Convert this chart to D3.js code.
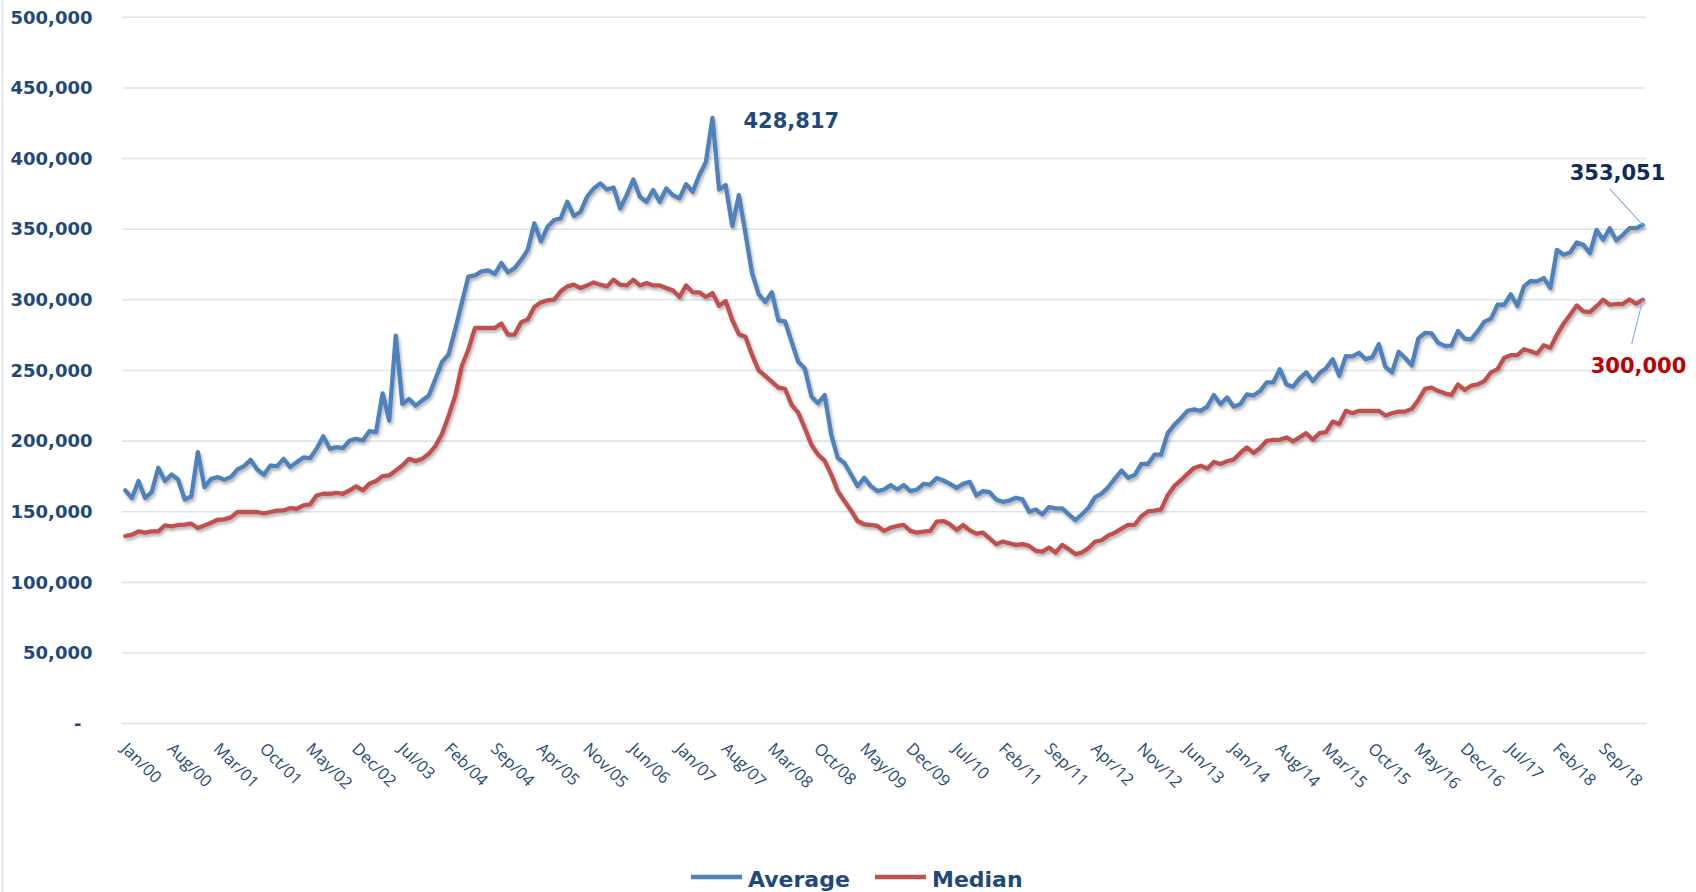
<!DOCTYPE html>
<html>
<head>
<meta charset="utf-8">
<script src="https://cdn.jsdelivr.net/npm/d3@7/dist/d3.min.js"></script>
<style>
  html, body { margin: 0; padding: 0; background: #fff; }
  svg { display: block; }
</style>
</head>
<body>
<svg id="chart"></svg>
<script>
const width = 1696;
const height = 892;

// categories
const monthNames = ['Jan', 'Feb', 'Mar', 'Apr', 'May', 'Jun', 'Jul', 'Aug', 'Sep', 'Oct', 'Nov', 'Dec'];
const years = ['00', '01', '02', '03', '04', '05', '06', '07', '08', '09',
               '10', '11', '12', '13', '14', '15', '16', '17', '18', '19'];
const monthCount = 231; // Jan/00 .. Mar/19

// series values, in thousands
const averageK = [
  165.1, 159.7, 171.7, 159.7, 163.9, 181.1, 171.7, 176.4, 172.8, 158.7, 160.8, 192.2,
  167.4, 173.3, 174.5, 172.6, 174.5, 179.9, 182.3, 186.7, 179.9, 176.1, 182.7, 182.3,
  187.4, 181.6, 185.1, 188.4, 187.9, 194.5, 203.5, 194.5, 195.7, 195.0, 200.4, 201.6,
  200.4, 207.0, 206.3, 233.8, 214.5, 274.6, 226.3, 229.8, 225.1, 228.7, 232.2, 244.0,
  256.0, 261.3, 278.9, 297.7, 316.5, 317.3, 320.1, 320.8, 318.4, 326.0, 319.4, 322.4,
  328.3, 335.4, 354.2, 341.2, 351.8, 356.5, 357.7, 369.4, 359.3, 362.4, 373.0, 378.8,
  382.4, 378.1, 379.5, 364.7, 374.1, 385.2, 373.0, 369.4, 377.7, 369.4, 378.8, 374.1,
  371.8, 381.9, 376.5, 388.2, 397.6, 428.817, 378.1, 381.2, 352.3, 374.1, 347.0, 318.9,
  304.0, 298.4, 305.4, 285.4, 284.7, 270.2, 256.1, 251.4, 231.5, 226.8, 232.6, 204.5,
  188.0, 184.5, 176.3, 168.1, 174.0, 168.1, 164.6, 165.7, 168.8, 165.7, 168.8, 164.6,
  165.7, 169.7, 169.2, 173.9, 172.1, 169.7, 166.9, 169.7, 171.1, 161.5, 164.6, 163.8,
  158.7, 157.0, 157.9, 159.9, 158.7, 150.0, 151.6, 148.1, 153.3, 152.3, 152.3, 148.1,
  144.1, 148.1, 152.8, 160.3, 162.8, 167.5, 173.4, 179.1, 174.0, 176.0, 183.8, 183.8,
  190.4, 190.4, 205.6, 211.5, 216.2, 221.4, 222.5, 221.4, 224.4, 232.6, 226.1, 230.8,
  224.4, 226.1, 233.1, 232.2, 235.4, 241.5, 241.5, 250.9, 240.1, 238.5, 244.4, 248.6,
  242.5, 248.0, 251.5, 258.0, 246.3, 260.1, 260.0, 262.5, 258.0, 259.2, 268.6, 252.5,
  248.6, 263.2, 258.8, 253.6, 272.7, 276.6, 276.2, 269.5, 267.4, 267.6, 278.0, 272.6,
  272.0, 277.8, 284.5, 286.7, 296.5, 296.5, 303.9, 295.6, 309.5, 313.3, 313.0, 315.4,
  308.3, 335.4, 331.9, 333.5, 340.6, 338.9, 333.0, 349.5, 342.5, 350.7, 342.0, 346.0,
  350.7, 350.7, 353.051
];

const medianK = [
  132.8, 133.7, 136.1, 135.2, 136.1, 136.1, 140.3, 139.6, 140.6, 140.8, 141.5, 138.5,
  140.3, 142.2, 144.3, 144.6, 146.0, 149.8, 149.8, 149.8, 149.8, 148.8, 149.8, 150.7,
  150.9, 152.6, 152.1, 154.5, 155.2, 161.5, 162.7, 162.7, 163.4, 162.7, 165.1, 167.9,
  165.1, 169.8, 171.7, 175.2, 175.7, 179.2, 182.7, 187.4, 185.8, 187.4, 191.0, 196.5,
  205.0, 217.8, 231.9, 253.1, 264.8, 280.1, 280.1, 280.1, 280.1, 283.2, 275.4, 275.4,
  284.1, 286.0, 294.9, 298.2, 299.6, 300.1, 306.0, 309.5, 310.7, 308.3, 310.2, 312.3,
  310.7, 309.5, 314.2, 310.7, 310.2, 314.2, 310.2, 311.8, 310.2, 310.2, 308.3, 306.7,
  302.0, 310.2, 305.3, 305.3, 302.0, 304.8, 295.8, 299.2, 285.7, 275.7, 273.8, 261.0,
  250.0, 246.2, 242.0, 237.8, 236.9, 225.6, 220.2, 209.2, 197.4, 190.4, 186.2, 176.3,
  164.6, 157.5, 150.9, 143.4, 141.1, 140.6, 139.9, 136.4, 138.7, 139.9, 140.6, 136.4,
  135.2, 135.9, 136.4, 143.0, 143.4, 141.1, 137.1, 140.6, 136.8, 134.5, 135.2, 131.2,
  127.0, 128.9, 127.7, 126.5, 127.0, 125.8, 122.3, 121.8, 124.6, 121.1, 126.5, 123.5,
  120.0, 121.1, 124.2, 128.9, 129.8, 133.2, 135.2, 138.0, 140.6, 140.8, 146.8, 150.2,
  150.7, 151.6, 161.7, 168.1, 172.3, 176.8, 181.0, 182.6, 180.5, 185.2, 183.8, 185.7,
  186.9, 191.6, 195.5, 191.6, 195.1, 200.2, 200.9, 200.9, 202.6, 199.8, 202.6, 205.6,
  200.9, 205.6, 206.3, 213.8, 212.0, 221.4, 219.7, 221.4, 221.4, 221.4, 221.4, 218.1,
  219.7, 220.9, 220.9, 222.8, 229.1, 236.9, 237.8, 235.4, 233.8, 232.6, 240.1, 236.2,
  239.2, 240.1, 242.5, 248.6, 250.9, 258.9, 260.8, 260.8, 265.0, 263.6, 262.0, 267.8,
  266.0, 275.4, 283.1, 289.4, 296.0, 291.8, 291.3, 295.5, 300.0, 296.5, 297.2, 297.2,
  300.2, 297.2, 300.0
];

const seriesNames = ['Average', 'Median'];
const yTicks = [0, 50000, 100000, 150000, 200000, 250000, 300000, 350000, 400000, 450000, 500000];

const months = years.flatMap(yr => monthNames.map(m => m + '/' + yr)).slice(0, monthCount);
const tickLabels = months.filter((m, i) => i % 7 === 0);
const average = averageK.map(v => Math.round(v * 1000));
const median = medianK.map(v => Math.round(v * 1000));
const seriesData = [average, median];

const plotLeft = 122, plotRight = 1646, plotTop = 17.3, plotBottom = 723.6;
const textBlue = '#1F497D';
const gridColor = '#DAE4F1';

const color = d3.scaleOrdinal().domain(seriesNames).range(['#4F81BD', '#C0504D']);

const svg = d3.select('#chart')
            .attr('width', width)
            .attr('height', height);

const defs = svg.append('defs');
const shadow = defs.append('filter').attr('id', 'shadow')
  .attr('x', '-5%').attr('y', '-5%').attr('width', '110%').attr('height', '120%');
shadow.append('feDropShadow')
  .attr('dx', 1.5).attr('dy', 2.5).attr('stdDeviation', 1.6)
  .attr('flood-color', '#000').attr('flood-opacity', 0.3);

// chart border on the left edge
svg.append('line')
  .attr('x1', 2.5).attr('x2', 2.5).attr('y1', 0).attr('y2', height)
  .attr('stroke', gridColor).attr('stroke-width', 1.5);

const x = d3.scaleBand().domain(months).range([plotLeft, plotRight]);
const y = d3.scaleLinear().domain([0, 500000]).range([plotBottom, plotTop]);
const xc = d => x(d) + x.bandwidth() / 2;

// gridlines
svg.append('g').selectAll('line').data(yTicks)
  .enter().append('line')
  .attr('x1', plotLeft).attr('x2', plotRight)
  .attr('y1', d => y(d)).attr('y2', d => y(d))
  .attr('stroke', gridColor).attr('stroke-width', 1.6);

// y axis
const yAxis = svg.append('g')
  .attr('transform', `translate(${plotLeft}, 0)`)
  .call(d3.axisLeft(y).tickValues(yTicks).tickSize(0).tickPadding(29.5)
    .tickFormat(d => d === 0 ? '-' : d3.format(',')(d)));
yAxis.select('.domain').remove();
yAxis.selectAll('text')
  .attr('fill', textBlue)
  .style('font-family', 'DejaVu Sans')
  .style('font-weight', 'bold')
  .style('font-size', '18px')
  .attr('dx', d => d === 0 ? -11 : 0);

// x axis
const xAxis = svg.append('g')
  .attr('transform', `translate(0, ${plotBottom})`)
  .call(d3.axisBottom(x).tickValues(tickLabels).tickSize(0));
xAxis.select('.domain').remove();
xAxis.selectAll('text')
  .attr('x', 0).attr('y', 0).attr('dy', '0.35em')
  .attr('text-anchor', 'start')
  .attr('transform', 'translate(-1, 22) rotate(45)')
  .attr('fill', textBlue)
  .style('font-family', 'Open Sans')
  .style('font-size', '16.5px');

// lines
const line = d3.line()
  .x((d, i) => xc(months[i]))
  .y(d => y(d));

svg.append('g').selectAll('path').data(seriesData)
  .enter().append('path')
  .attr('d', d => line(d))
  .attr('fill', 'none')
  .attr('stroke', (d, i) => color(seriesNames[i]))
  .attr('stroke-width', 4.3)
  .attr('stroke-linejoin', 'round')
  .attr('stroke-linecap', 'round')
  .attr('filter', 'url(#shadow)');

// annotations
const fmt = d3.format(',');
const peakIndex = d3.maxIndex(average);
const last = monthCount - 1;

svg.append('text')
  .attr('x', xc(months[peakIndex]) + 31)
  .attr('y', y(average[peakIndex]) + 10)
  .attr('fill', textBlue)
  .style('font-family', 'DejaVu Sans').style('font-weight', 'bold').style('font-size', '21px')
  .text(fmt(average[peakIndex]));

svg.append('line')
  .attr('x1', xc(months[last]) - 33).attr('y1', y(average[last]) - 36)
  .attr('x2', xc(months[last])).attr('y2', y(average[last]))
  .attr('stroke', '#8DB3E2').attr('stroke-width', 1.2);
svg.append('text')
  .attr('x', xc(months[last]) - 73)
  .attr('y', y(average[last]) - 45)
  .attr('fill', '#0F2A5E')
  .style('font-family', 'DejaVu Sans').style('font-weight', 'bold').style('font-size', '21px')
  .text(fmt(average[last]));

svg.append('line')
  .attr('x1', xc(months[last]) - 11).attr('y1', y(median[last]) + 44)
  .attr('x2', xc(months[last])).attr('y2', y(median[last]))
  .attr('stroke', '#8DB3E2').attr('stroke-width', 1.2);
svg.append('text')
  .attr('x', xc(months[last]) - 52)
  .attr('y', y(median[last]) + 73.5)
  .attr('fill', '#C00000')
  .style('font-family', 'DejaVu Sans').style('font-weight', 'bold').style('font-size', '21px')
  .text(fmt(median[last]));

// legend
const legend = svg.append('g').selectAll('g').data(seriesNames)
  .enter().append('g')
  .attr('transform', (d, i) => `translate(${i === 0 ? 691 : 875}, 877)`);
legend.append('line')
  .attr('x1', 0).attr('x2', 51).attr('y1', 0).attr('y2', 0)
  .attr('stroke', d => color(d)).attr('stroke-width', 4.5);
legend.append('text')
  .attr('x', 57).attr('y', 10)
  .attr('fill', textBlue)
  .style('font-family', 'DejaVu Sans').style('font-weight', 'bold').style('font-size', '22px')
  .text(d => d);
</script>
</body>
</html>
